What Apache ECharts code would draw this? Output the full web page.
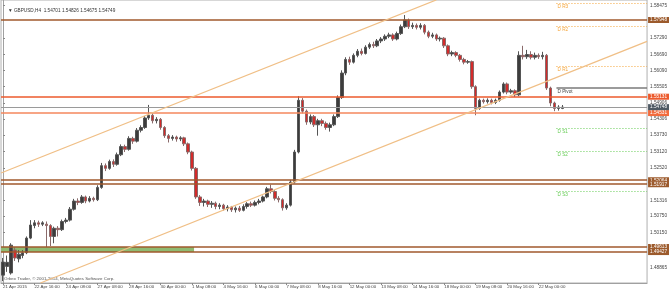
<!DOCTYPE html>
<html lang="en">
<head>
<meta charset="utf-8">
<title>GBPUSD,H4</title>
<script src="https://cdn.jsdelivr.net/npm/echarts@6.0.0/dist/echarts.min.js"></script>
</head>
<body style="margin:0;background:#fff">
<div id="chart" style="width:670px;height:292px;"></div>
<script type="text/javascript">
// H4 candles, [open, close, low, high]
var ohlc = [
  [1.4858,1.4906,1.4836,1.4921],[1.4890,1.4905,1.4870,1.4930],[1.4866,1.4968,1.4860,1.4975],[1.4950,1.4921,1.4910,1.4960],
  [1.4918,1.4935,1.4905,1.4950],[1.4930,1.4940,1.4920,1.4950],[1.4940,1.4994,1.4935,1.5000],[1.4994,1.5042,1.4990,1.5060],
  [1.5040,1.5050,1.5030,1.5060],[1.5050,1.5045,1.5035,1.5058],[1.5045,1.5050,1.5038,1.5056],[1.5045,1.5040,1.4961,1.5055],
  [1.5040,1.5000,1.4965,1.5045],[1.5000,1.5030,1.4975,1.5036],[1.5030,1.5025,1.5000,1.5038],[1.5025,1.5055,1.5020,1.5062],
  [1.5055,1.5060,1.5048,1.5068],[1.5060,1.5100,1.5055,1.5108],[1.5100,1.5130,1.5095,1.5138],[1.5130,1.5125,1.5115,1.5140],
  [1.5125,1.5145,1.5120,1.5152],[1.5145,1.5130,1.5122,1.5150],[1.5130,1.5140,1.5125,1.5148],[1.5140,1.5135,1.5128,1.5146],
  [1.5135,1.5180,1.5130,1.5188],[1.5180,1.5260,1.5175,1.5270],[1.5260,1.5250,1.5240,1.5268],[1.5250,1.5275,1.5245,1.5282],
  [1.5275,1.5265,1.5255,1.5283],[1.5265,1.5300,1.5260,1.5308],[1.5300,1.5330,1.5295,1.5338],[1.5330,1.5320,1.5310,1.5337],
  [1.5320,1.5360,1.5315,1.5368],[1.5360,1.5350,1.5340,1.5366],[1.5350,1.5390,1.5345,1.5398],[1.5390,1.5400,1.5382,1.5408],
  [1.5400,1.5435,1.5395,1.5442],[1.5435,1.5445,1.5428,1.5483],[1.5445,1.5425,1.5415,1.5452],[1.5425,1.5430,1.5415,1.5438],
  [1.5430,1.5400,1.5392,1.5435],[1.5400,1.5370,1.5362,1.5405],[1.5370,1.5360,1.5345,1.5376],[1.5360,1.5365,1.5352,1.5372],
  [1.5365,1.5358,1.5348,1.5370],[1.5358,1.5362,1.5350,1.5368],[1.5362,1.5340,1.5332,1.5366],[1.5340,1.5310,1.5302,1.5345],
  [1.5310,1.5250,1.5242,1.5315],[1.5250,1.5145,1.5138,1.5255],[1.5145,1.5125,1.5112,1.5152],[1.5125,1.5130,1.5110,1.5138],
  [1.5130,1.5118,1.5108,1.5135],[1.5118,1.5122,1.5105,1.5130],[1.5122,1.5110,1.5100,1.5128],[1.5110,1.5115,1.5100,1.5122],
  [1.5115,1.5102,1.5095,1.5120],[1.5102,1.5108,1.5092,1.5115],[1.5108,1.5098,1.5090,1.5112],[1.5098,1.5104,1.5088,1.5110],
  [1.5104,1.5096,1.5090,1.5112],[1.5096,1.5110,1.5092,1.5118],[1.5110,1.5120,1.5102,1.5126],[1.5120,1.5115,1.5108,1.5128],
  [1.5115,1.5125,1.5110,1.5132],[1.5125,1.5130,1.5118,1.5138],[1.5130,1.5145,1.5125,1.5150],[1.5145,1.5175,1.5140,1.5182],
  [1.5175,1.5165,1.5158,1.5190],[1.5165,1.5140,1.5132,1.5170],[1.5140,1.5135,1.5125,1.5148],[1.5135,1.5105,1.5095,1.5140],
  [1.5105,1.5115,1.5098,1.5122],[1.5115,1.5200,1.5110,1.5208],[1.5200,1.5310,1.5195,1.5318],[1.5310,1.5500,1.5305,1.5515],
  [1.5500,1.5460,1.5452,1.5508],[1.5460,1.5420,1.5410,1.5466],[1.5420,1.5440,1.5412,1.5448],[1.5440,1.5410,1.5402,1.5446],
  [1.5410,1.5425,1.5370,1.5432],[1.5425,1.5415,1.5405,1.5432],[1.5415,1.5400,1.5392,1.5422],[1.5400,1.5410,1.5385,1.5418],
  [1.5410,1.5440,1.5405,1.5448],[1.5440,1.5510,1.5435,1.5518],[1.5510,1.5600,1.5505,1.5610],[1.5600,1.5650,1.5592,1.5658],
  [1.5650,1.5640,1.5630,1.5660],[1.5640,1.5665,1.5635,1.5672],[1.5665,1.5680,1.5658,1.5688],[1.5680,1.5672,1.5665,1.5690],
  [1.5672,1.5695,1.5668,1.5702],[1.5695,1.5705,1.5688,1.5712],[1.5705,1.5700,1.5692,1.5715],[1.5700,1.5718,1.5695,1.5725],
  [1.5718,1.5725,1.5710,1.5732],[1.5725,1.5735,1.5718,1.5742],[1.5735,1.5740,1.5728,1.5748],[1.5740,1.5725,1.5718,1.5746],
  [1.5725,1.5745,1.5720,1.5752],[1.5745,1.5770,1.5740,1.5778],[1.5770,1.5795,1.5765,1.5813],[1.5795,1.5770,1.5762,1.5800],
  [1.5770,1.5775,1.5762,1.5785],[1.5775,1.5768,1.5760,1.5782],[1.5768,1.5775,1.5760,1.5783],[1.5775,1.5750,1.5742,1.5780],
  [1.5750,1.5735,1.5728,1.5756],[1.5735,1.5740,1.5728,1.5748],[1.5740,1.5725,1.5718,1.5745],[1.5725,1.5728,1.5716,1.5734],
  [1.5728,1.5700,1.5692,1.5732],[1.5700,1.5670,1.5662,1.5705],[1.5670,1.5675,1.5662,1.5682],[1.5675,1.5665,1.5658,1.5680],
  [1.5665,1.5650,1.5642,1.5670],[1.5650,1.5640,1.5632,1.5656],[1.5640,1.5642,1.5634,1.5648],[1.5642,1.5550,1.5542,1.5646],
  [1.5550,1.5470,1.5445,1.5555],[1.5470,1.5500,1.5465,1.5506],[1.5500,1.5495,1.5488,1.5506],[1.5495,1.5500,1.5488,1.5507],
  [1.5500,1.5492,1.5485,1.5506],[1.5492,1.5500,1.5486,1.5506],[1.5500,1.5530,1.5495,1.5536],[1.5530,1.5560,1.5525,1.5566],
  [1.5560,1.5530,1.5522,1.5565],[1.5530,1.5535,1.5524,1.5542],[1.5535,1.5520,1.5512,1.5540],[1.5520,1.5665,1.5515,1.5680],
  [1.5665,1.5660,1.5650,1.5700],[1.5660,1.5668,1.5652,1.5685],[1.5668,1.5658,1.5650,1.5680],[1.5658,1.5665,1.5650,1.5675],
  [1.5665,1.5660,1.5652,1.5672],[1.5660,1.5665,1.5650,1.5678],[1.5665,1.5545,1.5538,1.5670],[1.5545,1.5490,1.5478,1.5550],
  [1.5490,1.5470,1.5460,1.5495],[1.5470,1.5475,1.5462,1.5482],[1.54701,1.54749,1.54675,1.54826]
];

// time axis: bar index, a label every 8 bars
var barMin = -0.5, barMax = 163.5;
var timeLabels = ['21 Apr 2015','22 Apr 16:00','24 Apr 08:00','27 Apr 08:00','28 Apr 16:00','30 Apr 00:00',
  '1 May 08:00','4 May 16:00','6 May 00:00','7 May 08:00','8 May 16:00','12 May 00:00','13 May 08:00',
  '14 May 16:00','18 May 00:00','19 May 08:00','20 May 16:00','22 May 00:00'];

// price scale
var priceMin = 1.48291, priceMax = 1.58682;
var priceTicks = [1.58475,1.57290,1.56690,1.56090,1.55505,1.54906,1.54306,1.53730,1.53120,1.52520,
  1.51316,1.50750,1.50150,1.48865,1.48265];

// horizontal levels
var brownLevels = [1.57948, 1.52064, 1.51917, 1.49613, 1.49427];
var redLevels = [1.55131, 1.54531];
var bidLevel = 1.54748;

// daily pivots
var pivotNames = ['D R3','D R2','D R1','D Pivot','D S1','D S2','D S3'];
var pivotValues = [1.58572, 1.57728, 1.56259, 1.55451, 1.53982, 1.53138, 1.51669];
var pivotStart = 140.5;

// channel (two anchors each: [bar index, price])
var channelLower = [[9.5, 1.48291], [163.5, 1.57160]];
var channelUpper = [[-0.5, 1.52330], [110.0, 1.58682]];

// zone between the two lower levels
var zone = [[-0.5, 1.49613], [48.5, 1.49427]];

var myChart = echarts.init(document.getElementById('chart'));

var FONT = 'Liberation Sans';
var FS = 4.7;

var candleData = ohlc.map(function (d, i) { return [i, d[0], d[1], d[2], d[3]]; });
var tickBars = timeLabels.map(function (t, k) { return k * 8; });

function boxLabel(bg) {
  return {
    show: true, position: 'end', distance: 1,
    formatter: function (p) { return p.value.toFixed(5); },
    backgroundColor: bg, color: '#fff', fontSize: FS, fontFamily: FONT,
    padding: [1, 2, 0, 2]
  };
}

var lines = [];
brownLevels.forEach(function (v) {
  lines.push({ yAxis: v, lineStyle: { color: '#a0592d', width: 1.5, type: 'solid' }, label: boxLabel('#9c5a2c') });
});
redLevels.forEach(function (v, k) {
  lines.push({ yAxis: v, lineStyle: { color: k === 0 ? '#ec5a2c' : '#f5875c', width: 1.5, type: 'solid' },
    label: boxLabel(k === 0 ? '#ec5a2c' : '#f26b3d') });
});
lines.push({ yAxis: bidLevel, lineStyle: { color: '#9a9a9a', width: 1.2, type: 'solid' }, label: boxLabel('#4f5a64') });

pivotNames.forEach(function (n, k) {
  var v = pivotValues[k];
  var col, type, w;
  if (n === 'D Pivot') { col = '#7a7a7a'; type = 'solid'; w = 1.6; }
  else if (n.charAt(2) === 'R') { col = '#f5a53a'; type = [1, 2]; w = 1; }
  else { col = '#66cc55'; type = [1, 2]; w = 1; }
  lines.push([
    { coord: [pivotStart, v], lineStyle: { color: col, type: type, width: w },
      label: { show: true, position: 'insideStartBottom', distance: 1, formatter: n,
               color: n === 'D Pivot' ? '#444' : col, fontSize: FS, fontFamily: FONT } },
    { coord: [barMax, v] }
  ]);
});

[channelLower, channelUpper].forEach(function (ch) {
  lines.push([
    { coord: ch[0], lineStyle: { color: '#f0bf86', width: 1.3, type: 'solid' }, label: { show: false } },
    { coord: ch[1] }
  ]);
});

myChart.setOption({
  animation: false,
  backgroundColor: '#fff',
  title: {
    text: '\u25BC GBPUSD,H4  1.54701 1.54826 1.54675 1.54749',
    left: 3, top: 3,
    textStyle: { fontSize: FS, fontWeight: 'normal', color: '#333', fontFamily: FONT }
  },
  graphic: [{
    type: 'text', left: 4, top: 277,
    style: { text: 'Orbex Trader, \u00A9 2001-2014, MetaQuotes Software Corp.', fontSize: 4.4, fill: '#555', fontFamily: FONT }
  }],
  grid: { left: 0, right: 22, top: 0, bottom: 9, show: true, borderColor: '#b0b0b0', borderWidth: 1 },
  xAxis: {
    type: 'value', min: barMin, max: barMax,
    axisLine: { show: true, onZero: false, lineStyle: { color: '#a0a0a0' } },
    axisTick: { show: true, length: 2, customValues: tickBars, lineStyle: { color: '#888' } },
    axisLabel: {
      customValues: tickBars,
      formatter: function (v) { return timeLabels[Math.round(v / 8)] || ''; },
      align: 'left', margin: 2, fontSize: 4.4, color: '#444', fontFamily: FONT
    },
    splitLine: { show: false }
  },
  yAxis: {
    type: 'value', position: 'right', min: priceMin, max: priceMax,
    axisLine: { show: true, lineStyle: { color: '#a0a0a0' } },
    axisTick: { show: true, length: 2, customValues: priceTicks, lineStyle: { color: '#888' } },
    axisLabel: { customValues: priceTicks, margin: 3, fontSize: FS, color: '#444', fontFamily: FONT,
      formatter: function (v) { return v.toFixed(5); } },
    splitLine: { show: false }
  },
  series: [{
    type: 'candlestick',
    data: candleData,
    encode: { x: 0, y: [1, 2, 3, 4] },
    barWidth: 3,
    itemStyle: { color: '#3c3c3c', color0: '#d42a2a', borderColor: '#555', borderColor0: '#8a6a6a', borderWidth: 1 },
    markLine: { symbol: 'none', silent: true, precision: 5, data: lines },
    markArea: {
      silent: true,
      itemStyle: { color: '#8fbb72' },
      data: [[{ coord: zone[0] }, { coord: zone[1] }]]
    }
  }]
});
</script>
</body>
</html>
